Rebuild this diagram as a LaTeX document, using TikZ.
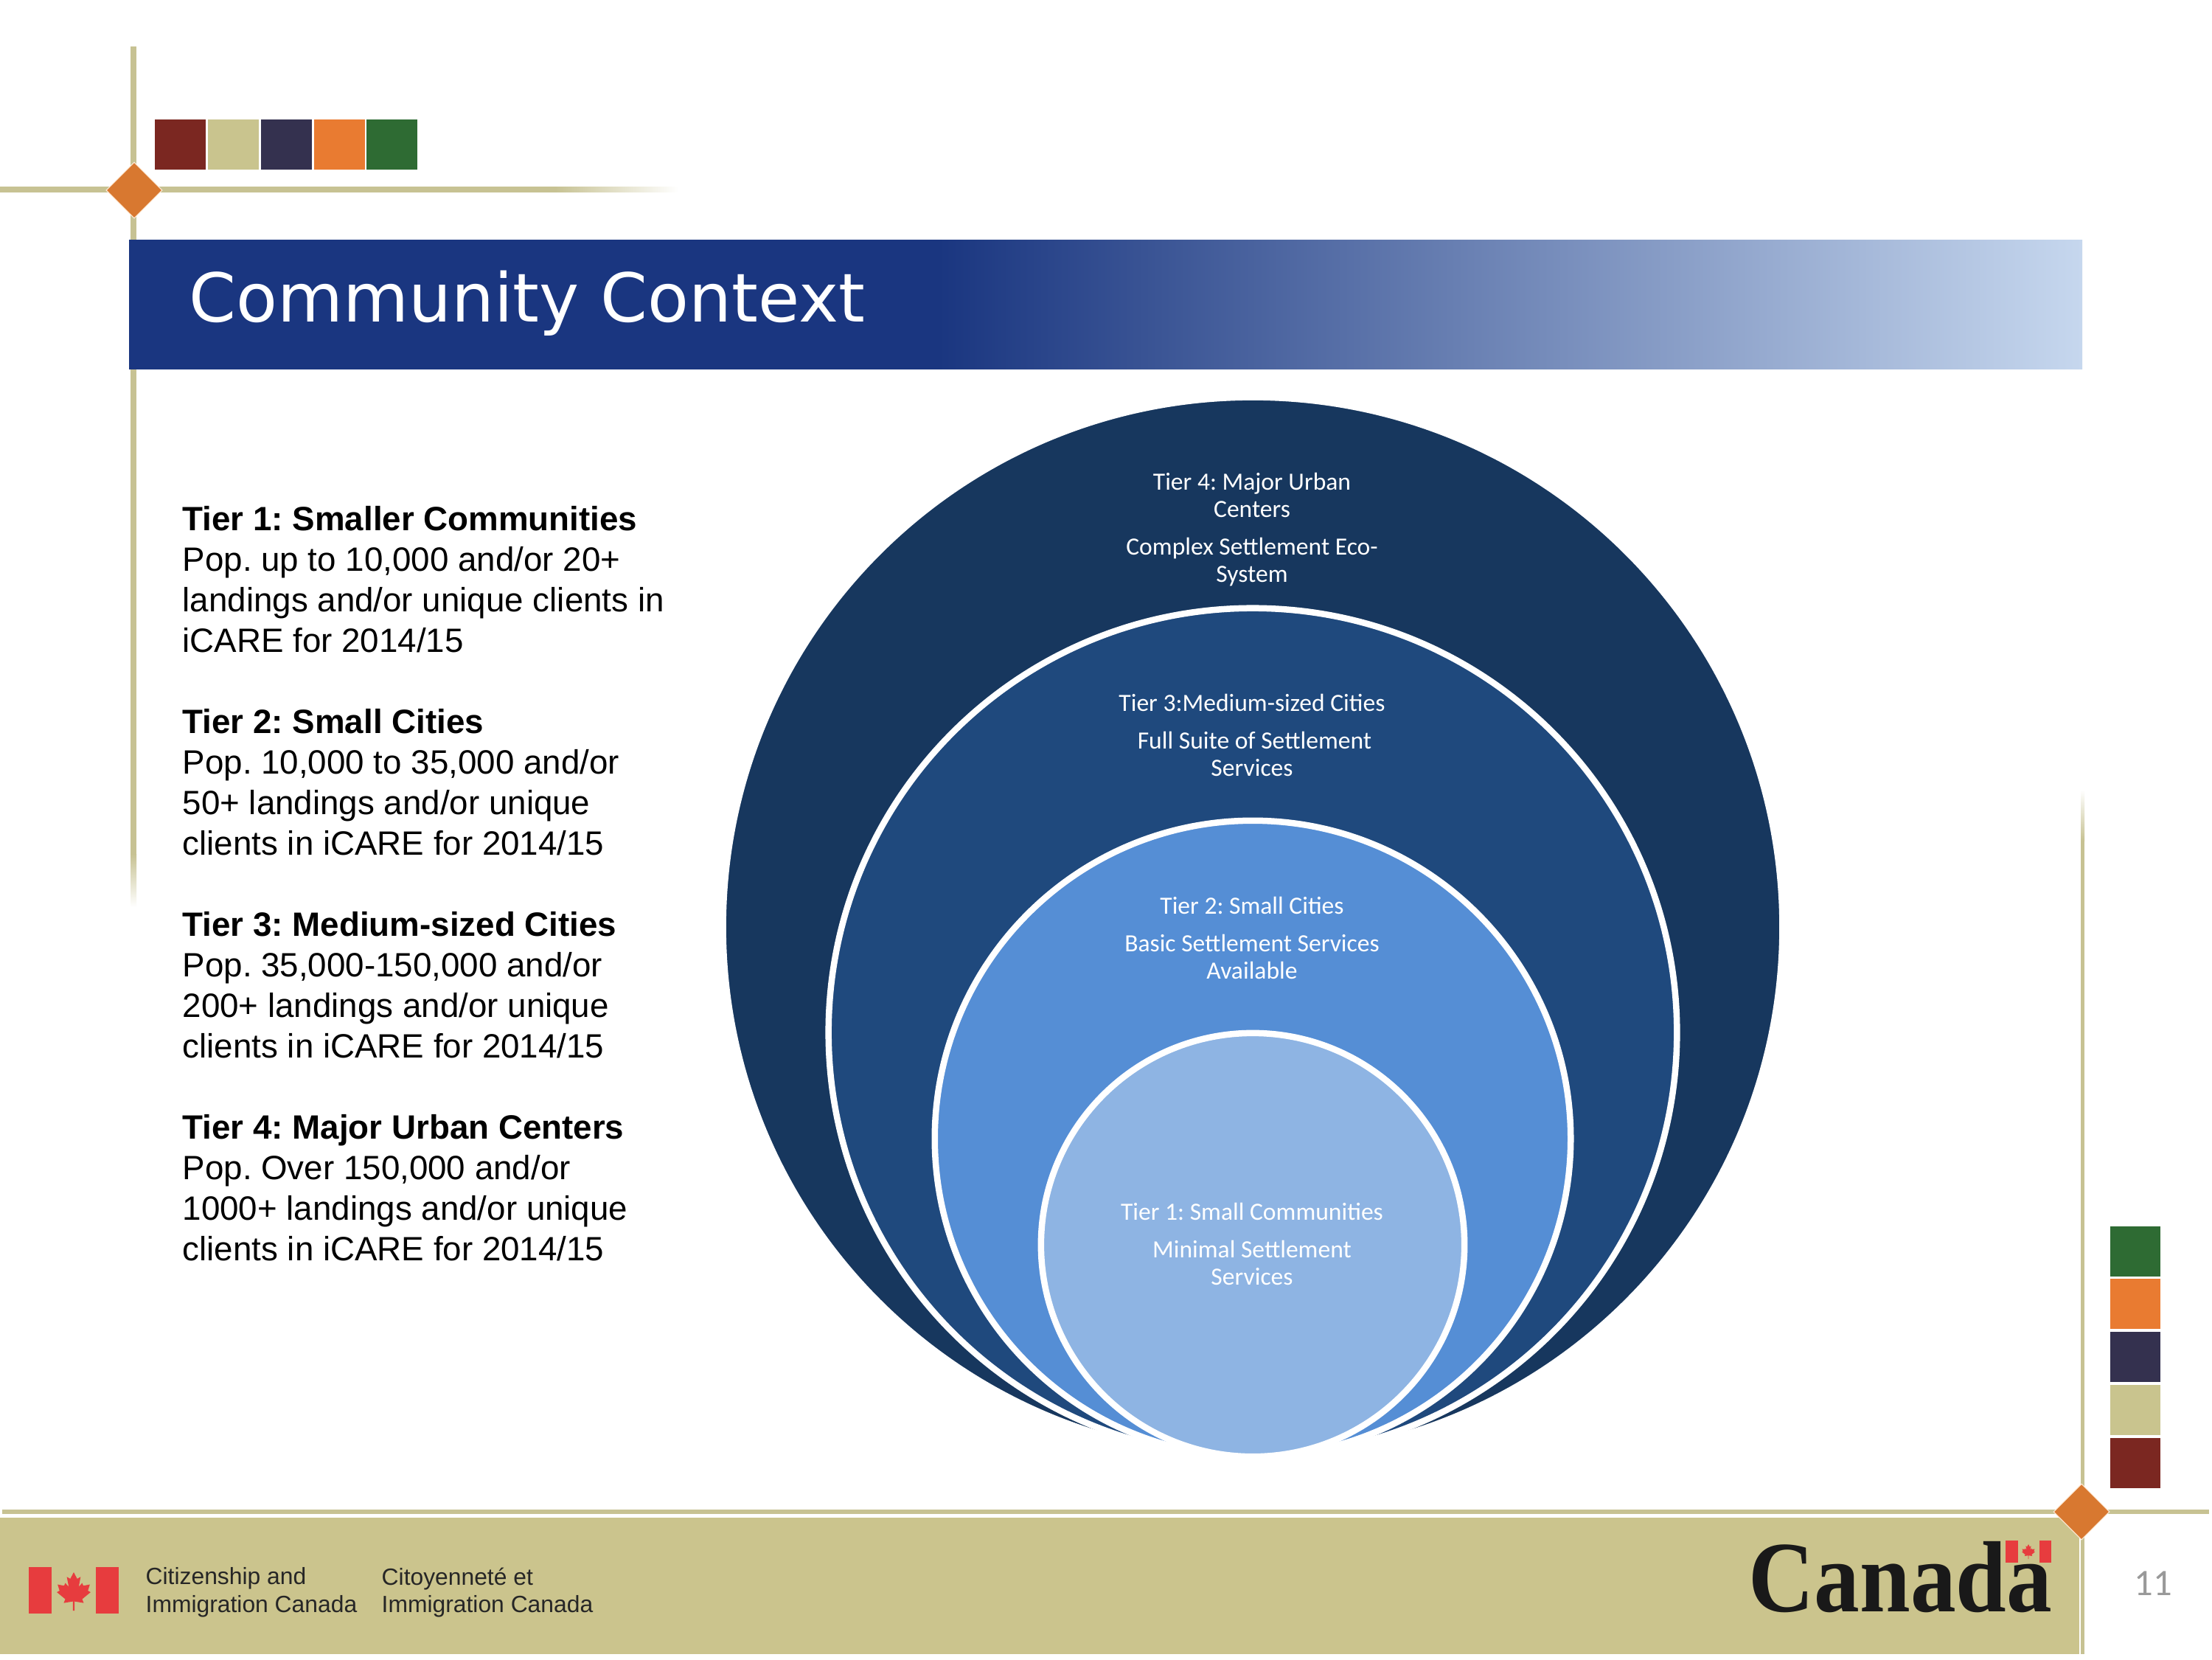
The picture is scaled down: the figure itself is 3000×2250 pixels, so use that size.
\documentclass[tikz,border=0pt]{standalone}
\usepackage{fontspec}
\usepackage{xcolor}
\setmainfont{Liberation Sans}
\newfontfamily\titlefont{DejaVu Sans}
\newfontfamily\tierfont{Carlito}
\newfontfamily\wordfont{Liberation Serif}
\definecolor{swatchred}{RGB}{123, 39, 33}
\definecolor{swatchkhaki}{RGB}{201, 196, 142}
\definecolor{swatchnavy}{RGB}{52, 49, 79}
\definecolor{swatchorange}{RGB}{233, 123, 49}
\definecolor{swatchgreen}{RGB}{46, 107, 51}
\definecolor{linekhaki}{RGB}{199, 194, 147}
\definecolor{footerkhaki}{RGB}{203, 196, 141}
\definecolor{diamondorange}{RGB}{216, 120, 48}
\definecolor{titleblue}{RGB}{26, 54, 128}
\definecolor{titlepale}{RGB}{198, 215, 238}
\definecolor{tierfour}{RGB}{23, 55, 94}
\definecolor{tierthree}{RGB}{31, 73, 125}
\definecolor{tiertwo}{RGB}{85, 142, 213}
\definecolor{tierone}{RGB}{142, 180, 227}
\definecolor{flagred}{RGB}{231, 60, 62}
\usepackage{tikz}
\usetikzlibrary{shapes.geometric}
\pgfdeclarehorizontalshading{titleband}{100bp}{color(0bp)=(titleblue); color(45.7bp)=(titleblue); color(75bp)=(titlepale); color(100bp)=(titlepale)}
\pgfdeclarehorizontalshading{linefade}{100bp}{color(0bp)=(linekhaki); color(65.9bp)=(linekhaki); color(75bp)=(white); color(100bp)=(white)}
\tikzset{
    tierdisc/.style={draw=white, line width=0.085cm},
    tierlabel/.style={text=white, align=center, inner sep=0pt, font=\tierfont\fontsize{9.55}{10.5}\selectfont},
    tierblock/.style={anchor=north west, align=left, inner sep=0pt, font=\fontsize{13}{15.6}\selectfont},
    footerblock/.style={anchor=north west, align=left, inner sep=0pt, text=black!85, font=\fontsize{9.05}{10.6}\selectfont},
    cornermark/.style={diamond, aspect=1, fill=diamondorange, draw=orange!15, line width=0.3pt, minimum width=0.76cm, minimum height=0.76cm, inner sep=0pt},
    pics/mapleleaf/.style={code={
        \fill[flagred] (0,-50) -- (-9,-33) -- (-18,-38) -- (-13,-12) -- (-22,-22) -- (-25,-15) -- (-42,-18) -- (-37,-2) -- (-44,2) -- (-22,20) -- (-26,30) -- (-2,26) -- (-2,50) -- (2,50) -- (2,26) -- (26,30) -- (22,20) -- (44,2) -- (37,-2) -- (42,-18) -- (25,-15) -- (22,-22) -- (13,-12) -- (18,-38) -- (9,-33) -- cycle;
    }}
}
\newcommand{\bandlabel}[1]{\textbf{#1}}

\begin{document}
\frenchspacing
\begin{tikzpicture}[x=0.01cm, y=-0.01cm]
    \useasboundingbox (0, 0) rectangle (3000, 2250);
    \fill[white] (0, 0) rectangle (3000, 2250);

    % frame lines
    \fill[linekhaki] (177, 63) rectangle (185, 1158);
    \shade[top color=linekhaki, bottom color=white] (177, 1158) rectangle (185, 1230);
    \shade[shading=linefade] (0, 253) rectangle (920, 260);
    \shade[top color=white, bottom color=linekhaki] (2822, 1071) rectangle (2827, 1140);
    \fill[linekhaki] (2822, 1140) rectangle (2827, 2243);
    \fill[linekhaki] (3, 2047) rectangle (2996, 2053);
    \fill[footerkhaki] (0, 2058) rectangle (2820, 2243);

    % swatches
    \foreach \x/\c in {210/swatchred, 282/swatchkhaki, 354/swatchnavy, 426/swatchorange, 497/swatchgreen}
        \fill[\c] (\x, 162) rectangle (\x + 69, 230);
    \foreach \y/\c in {1663/swatchgreen, 1734/swatchorange, 1806/swatchnavy, 1878/swatchkhaki, 1950/swatchred}
        \fill[\c] (2862, \y) rectangle (2930, \y + 68);
    \node[cornermark] (topmark) at (182, 258) {};
    \node[cornermark] (footmark) at (2823, 2050) {};

    % title band
    \shade[shading=titleband] (175, 325) rectangle (2824, 500);
    \node[anchor=base west, inner sep=0pt, text=white, font=\titlefont\fontsize{26}{30}\selectfont] (title) at (256, 436) {Community Context};

    % tier text
    \node[tierblock] (tieronetext) at (247, 686) {\bandlabel{Tier 1: Smaller Communities}\\Pop. up to 10,000 and/or 20+\\landings and/or unique clients in\\iCARE for 2014/15};
    \node[tierblock] (tiertwotext) at (247, 961) {\bandlabel{Tier 2: Small Cities}\\Pop. 10,000 to 35,000 and/or\\50+ landings and/or unique\\clients in iCARE for 2014/15};
    \node[tierblock] (tierthreetext) at (247, 1236) {\bandlabel{Tier 3: Medium-sized Cities}\\Pop. 35,000-150,000 and/or\\200+ landings and/or unique\\clients in iCARE for 2014/15};
    \node[tierblock] (tierfourtext) at (247, 1511) {\bandlabel{Tier 4: Major Urban Centers}\\Pop. Over 150,000 and/or\\1000+ landings and/or unique\\clients in iCARE for 2014/15};

    % nested discs
    \filldraw[tierdisc, fill=tierfour] (1699, 1257) circle (7.18cm);
    \filldraw[tierdisc, fill=tierthree] (1699, 1400) circle (5.75cm);
    \filldraw[tierdisc, fill=tiertwo] (1699, 1544) circle (4.31cm);
    \filldraw[tierdisc, fill=tierone] (1699, 1688) circle (2.87cm);

    \node[tierlabel] (tierfourlabel) at (1698, 718) {Tier 4: Major Urban\\Centers\\[3.9pt]Complex Settlement Eco-\\System};
    \node[tierlabel] (tierthreelabel) at (1698, 997) {Tier 3:Medium-sized Cities\\[3.9pt]\hspace*{2pt}Full Suite of Settlement\\Services};
    \node[tierlabel] (tiertwolabel) at (1698, 1272) {Tier 2: Small Cities\\[3.9pt]Basic Settlement Services\\Available};
    \node[tierlabel] (tieronelabel) at (1698, 1687) {Tier 1: Small Communities\\[3.9pt]Minimal Settlement\\Services};

    % footer
    \fill[flagred] (39, 2125) rectangle (70, 2188);
    \fill[flagred] (130, 2125) rectangle (161, 2188);
    \pic[scale=0.52] at (100, 2158) {mapleleaf};
    \node[footerblock] (deptenglish) at (197, 2125) {Citizenship and\\Immigration Canada};
    \node[footerblock] (deptfrench) at (517, 2125) {Citoyennet\'e et\\Immigration Canada};
    \node[anchor=base west, inner sep=0pt, text=black!90, font=\wordfont\bfseries\fontsize{39}{39}\selectfont] (wordmark) at (2371, 2185) {\scalebox{.9}[1]{Canada}};
    \fill[flagred] (2720, 2089) rectangle (2737, 2119);
    \fill[flagred] (2766, 2089) rectangle (2782, 2119);
    \pic[scale=0.2] at (2751, 2104) {mapleleaf};
    \node[anchor=base, inner sep=0pt, text=black!40, font=\tierfont\fontsize{14.4}{16}\selectfont] (pagenumber) at (2920, 2163) {11};
\end{tikzpicture}
\end{document}
